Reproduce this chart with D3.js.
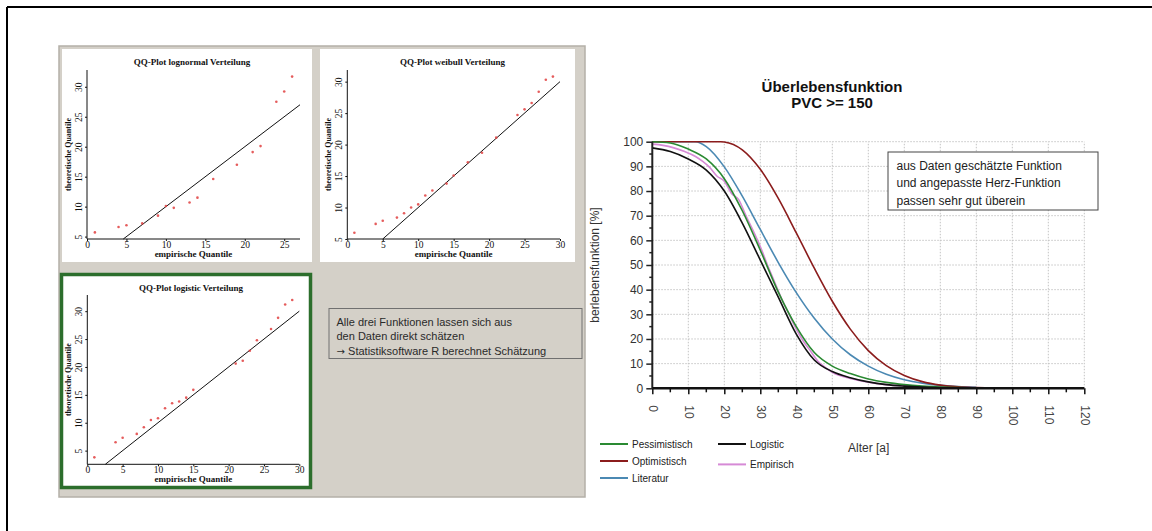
<!DOCTYPE html>
<html>
<head>
<meta charset="utf-8">
<script src="https://d3js.org/d3.v7.min.js"></script>
<style>
  body { margin: 0; background: #fff; }
  svg { display: block; }
  .sans { font-family: "Liberation Sans", Arial, sans-serif; }
  .serif { font-family: "Liberation Serif", "Times New Roman", serif; }
</style>
</head>
<body>
<svg id="chart" width="1152" height="531"></svg>
<script>
// QQ-Plot Punkte: [empirisch, theoretisch]
const qqLognormal = [[1,5.7],[4,6.6],[5,6.9],[7,7.2],[9,8.5],[10,10.1],[11,9.8],[13,10.7],[14,11.5],[16,14.6],[19,17.0],[21,19.1],[22,20.1],[24,27.5],[25,29.2],[26,31.7]];
const qqWeibull = [[1,6.0],[4,7.4],[5,7.9],[7,8.4],[8,9.1],[9,10.0],[10,10.5],[11,11.9],[12,12.7],[14,13.8],[15,15.1],[17,17.2],[19,18.7],[21,21.1],[24,24.7],[25,25.6],[26,26.6],[27,28.4],[28,30.3],[29,30.8]];
const qqLogistic = [[1,3.8],[4,6.5],[5,7.3],[7,8.0],[8,9.2],[9,10.5],[10,10.8],[11,12.6],[12,13.5],[13,13.8],[14,14.5],[15,15.9],[21,20.6],[22,21.1],[23,22.9],[24,24.8],[26,26.8],[27,28.8],[28,31.2],[29,32.0]];
const qqTitles = ["QQ-Plot lognormal Verteilung", "QQ-Plot weibull Verteilung", "QQ-Plot logistic Verteilung"];
const qqXTicks = [[0,5,10,15,20,25],[0,5,10,15,20,25,30],[0,5,10,15,20,25,30]];
const qqYTicks = [[5,10,15,20,25,30],[5,10,15,20,25,30],[5,10,15,20,25,30]];

// Überlebensfunktion: [Alter, Prozent]
const pessimistisch = [[0,100],[5,99.5],[10,97],[15,93],[20,85],[25,72],[30,56],[35,39],[40,25],[45,14.5],[50,9],[55,6],[60,3.8],[65,2.4],[70,1.5],[75,0.9],[80,0.5],[85,0.3],[90,0.15]];
const optimistisch = [[0,100],[10,100],[19,100],[20,99.9],[25,96.7],[30,88.8],[35,77],[40,63],[45,48.7],[50,35.3],[55,24],[60,15.3],[65,9.2],[70,5.2],[75,2.7],[80,1.3],[85,0.6],[90,0.3],[95,0.1]];
const literatur = [[0,100],[6,100],[12,100],[15,98],[20,89.8],[25,77.9],[30,64.4],[35,51],[40,38.8],[45,28.4],[50,20],[55,13.6],[60,9],[65,5.7],[70,3.5],[75,2.1],[80,1.2],[85,0.7],[90,0.4]];
const logistic = [[0,97.5],[5,96],[10,93],[15,88.5],[20,80],[25,67],[30,52],[35,37],[40,22],[45,11.5],[50,6.8],[55,4.3],[60,2.6],[65,1.5],[70,0.9],[75,0.5],[80,0.3],[85,0.15]];
const empirisch = [[0,99],[3,98.5],[6,97.5],[9,96],[12,94],[14,92],[16,89.5],[18,86],[20,84],[22,79],[24,76.5],[26,70],[28,64],[30,57.5],[32,50],[34,43],[36,36],[38,30],[40,24],[42,19],[44,15],[46,11],[48,8.5],[50,6.5],[55,4],[60,2.5],[65,1.5],[70,1],[75,0.5]];
const xTicks = d3.range(0, 121, 10);
const yTicks = d3.range(0, 101, 10);

const svg = d3.select("#chart");

// Rahmen (nur oben und links sichtbar)
svg.append("line").attr("x1", 7).attr("y1", 7).attr("x2", 1152).attr("y2", 7).attr("stroke", "#000").attr("stroke-width", 2);
svg.append("line").attr("x1", 7).attr("y1", 7).attr("x2", 7).attr("y2", 531).attr("stroke", "#000").attr("stroke-width", 2);

// grauer Bereich mit den QQ-Plots
svg.append("rect").attr("x", 59).attr("y", 46).attr("width", 526).attr("height", 451)
  .attr("fill", "#d4d0c8").attr("stroke", "#b4b0a8").attr("stroke-width", 1.5);

const panels = [
  { data: qqLognormal, box: [62, 49, 250, 213], x: [0, 27], xr: [87, 300], y: [4.6, 32.8], yr: [239, 70], border: null },
  { data: qqWeibull, box: [320, 49, 255, 213], x: [0, 30], xr: [347.3, 560], y: [5, 31.85], yr: [239, 70], border: null },
  { data: qqLogistic, box: [61.5, 274.5, 249, 213], x: [0, 30], xr: [87.3, 299.3], y: [2.55, 32.9], yr: [464.3, 295], border: "#2c6e2c" }
];

panels.forEach((p, i) => {
  const g = svg.append("g").attr("class", "serif");
  g.append("rect").attr("x", p.box[0]).attr("y", p.box[1]).attr("width", p.box[2]).attr("height", p.box[3])
    .attr("fill", "#fff")
    .attr("stroke", p.border || "none").attr("stroke-width", p.border ? 3.5 : 0);

  const x = d3.scaleLinear().domain(p.x).range(p.xr);
  const y = d3.scaleLinear().domain(p.y).range(p.yr);

  // Achsen
  g.append("g").attr("transform", `translate(0,${p.yr[0]})`)
    .call(d3.axisBottom(x).tickValues(qqXTicks[i]).tickSize(2).tickPadding(0))
    .call(a => a.selectAll("text").attr("font-size", 9.5).attr("font-family", "Liberation Serif").attr("fill", "#111"))
    .call(a => a.selectAll("path,line").attr("stroke", "#111"));
  g.append("g").attr("transform", `translate(${p.xr[0]},0)`)
    .call(d3.axisLeft(y).tickValues(qqYTicks[i]).tickSize(2).tickPadding(1))
    .call(a => a.selectAll("path,line").attr("stroke", "#111"))
    .call(a => a.selectAll("text").attr("font-size", 9.5).attr("font-family", "Liberation Serif").attr("fill", "#111")
      .attr("text-anchor", "middle").attr("x", -5.5).attr("y", 0).attr("dy", 0)
      .attr("transform", "rotate(-90,-5.5,0)"));
  g.selectAll(".domain").attr("d", null);
  g.append("line").attr("x1", p.xr[0]).attr("x2", p.xr[1]).attr("y1", p.yr[0]).attr("y2", p.yr[0]).attr("stroke", "#111");
  g.append("line").attr("x1", p.xr[0]).attr("x2", p.xr[0]).attr("y1", p.yr[0]).attr("y2", p.yr[1]).attr("stroke", "#111");

  // Referenzlinie y = x
  const lo = Math.max(p.x[0], p.y[0]);
  const hi = Math.min(p.x[1], p.y[1]);
  g.append("line").attr("x1", x(lo)).attr("y1", y(lo)).attr("x2", x(hi)).attr("y2", y(hi))
    .attr("stroke", "#111").attr("stroke-width", 1);

  g.selectAll("circle.pt").data(p.data).enter().append("circle")
    .attr("cx", d => x(d[0])).attr("cy", d => y(d[1])).attr("r", 1.3)
    .attr("fill", "#e04040").attr("opacity", 0.85);

  const cx = (p.box[0] + p.box[0] + p.box[2]) / 2 + 5;
  g.append("text").attr("x", cx).attr("y", p.box[1] + 16).attr("text-anchor", "middle")
    .attr("font-size", 9).attr("font-weight", "bold").attr("fill", "#111").text(qqTitles[i]);
  g.append("text").attr("x", (p.xr[0] + p.xr[1]) / 2).attr("y", p.yr[0] + 17.5).attr("text-anchor", "middle")
    .attr("font-size", 9).attr("font-weight", "bold").attr("fill", "#111").text("empirische Quantile");
  const ly = (p.yr[0] + p.yr[1]) / 2;
  g.append("text").attr("transform", `translate(${p.xr[0] - 16},${ly}) rotate(-90)`).attr("text-anchor", "middle")
    .attr("font-size", 8).attr("font-weight", "bold").attr("fill", "#111").text("theoretische Quantile");
});

// Textkasten im grauen Bereich
svg.append("rect").attr("x", 329).attr("y", 308.5).attr("width", 253).attr("height", 50)
  .attr("fill", "none").attr("stroke", "#707070");
const boxLines = ["Alle drei Funktionen lassen sich aus", "den Daten direkt schätzen", "Statistiksoftware R berechnet Schätzung"];
const bt = svg.append("g").attr("class", "sans").selectAll("text").data(boxLines).enter().append("text")
  .attr("x", 336.5).attr("y", (d, i) => 325.5 + i * 14.5)
  .attr("font-size", 11).attr("fill", "#2a2a2a");
bt.filter((d, i) => i === 2).append("tspan").attr("font-family", "DejaVu Sans").attr("font-size", 10).text("\u2192 ");
bt.append("tspan").text(d => d);

// Hauptdiagramm
const x = d3.scaleLinear().domain([0, 120]).range([652.3, 1084.3]);
const y = d3.scaleLinear().domain([0, 100]).range([388.3, 141.7]);
const main = svg.append("g").attr("class", "sans");

main.append("text").attr("x", 832).attr("y", 92).attr("text-anchor", "middle")
  .attr("font-size", 15).attr("font-weight", "bold").attr("fill", "#111").text("Überlebensfunktion");
main.append("text").attr("x", 832).attr("y", 107.5).attr("text-anchor", "middle")
  .attr("font-size", 15).attr("font-weight", "bold").attr("fill", "#111").text("PVC >= 150");

// Gitter
main.append("g").selectAll("line").data(xTicks.slice(1)).enter().append("line")
  .attr("x1", d => x(d)).attr("x2", d => x(d)).attr("y1", y(0)).attr("y2", y(100))
  .attr("stroke", "#c4c4c4").attr("stroke-dasharray", "1.5,1.5");
main.append("g").selectAll("line").data(yTicks.slice(1)).enter().append("line")
  .attr("x1", x(0)).attr("x2", x(120)).attr("y1", d => y(d)).attr("y2", d => y(d))
  .attr("stroke", "#c4c4c4").attr("stroke-dasharray", "1.5,1.5");

// Kurven
const line = d3.line().x(d => x(d[0])).y(d => y(d[1])).curve(d3.curveMonotoneX);
const series = [
  { data: empirisch, color: "#d68ad6" },
  { data: literatur, color: "#4b89b3" },
  { data: optimistisch, color: "#8b1c1c" },
  { data: pessimistisch, color: "#2a8a32" },
  { data: logistic, color: "#111111" }
];
series.forEach(s => {
  main.append("path").datum(s.data).attr("d", line).attr("fill", "none")
    .attr("stroke", s.color).attr("stroke-width", 1.6);
});

// Achsen
main.append("g").attr("transform", `translate(${x(0)},0)`)
  .call(d3.axisLeft(y).tickValues(yTicks).tickSize(6).tickPadding(3))
  .call(a => a.select(".domain").attr("stroke", "#222").attr("stroke-width", 2).attr("d", `M0,${y(0)}V${y(100)}`))
  .call(a => a.selectAll("line").attr("stroke", "#222").attr("stroke-width", 1.5))
  .call(a => a.selectAll("text").attr("font-size", 12).attr("fill", "#333").attr("font-family", "Liberation Sans"));
main.append("g").attr("transform", `translate(${x(0)},0)`)
  .selectAll("line").data(d3.range(5, 100, 10)).enter().append("line")
  .attr("x1", -3).attr("x2", 0).attr("y1", d => y(d)).attr("y2", d => y(d)).attr("stroke", "#222").attr("stroke-width", 1.5);

main.append("g").attr("transform", `translate(0,${y(0)})`)
  .call(d3.axisBottom(x).tickValues(xTicks).tickSize(6).tickPadding(16))
  .call(a => a.select(".domain").attr("stroke", "#111").attr("stroke-width", 2.5).attr("d", `M${x(0)},0H${x(120)}`))
  .call(a => a.selectAll("line").attr("stroke", "#111").attr("stroke-width", 1.5))
  .call(a => a.selectAll("text").attr("font-size", 12).attr("fill", "#444").attr("font-family", "Liberation Sans")
    .attr("text-anchor", "start").attr("y", 0).attr("dy", "0.35em").attr("transform", "translate(0,17) rotate(90)"));
main.append("g").attr("transform", `translate(0,${y(0)})`)
  .selectAll("line").data(d3.range(5, 120, 10)).enter().append("line")
  .attr("x1", d => x(d)).attr("x2", d => x(d)).attr("y1", 0).attr("y2", 4).attr("stroke", "#111").attr("stroke-width", 1.5);

main.append("text").attr("transform", `translate(599,${(y(0) + y(100)) / 2}) rotate(-90)`).attr("text-anchor", "middle")
  .attr("font-size", 12).attr("fill", "#333").text("berlebensfunktion [%]");
main.append("text").attr("x", 848).attr("y", 452).attr("font-size", 12).attr("fill", "#333").text("Alter [a]");

// Hinweiskasten
main.append("rect").attr("x", 888).attr("y", 152).attr("width", 210).attr("height", 58)
  .attr("fill", "#fff").attr("stroke", "#444");
const noteLines = ["aus Daten geschätzte Funktion", "und angepasste Herz-Funktion", "passen sehr gut überein"];
main.append("g").selectAll("text").data(noteLines).enter().append("text")
  .attr("x", 896.5).attr("y", (d, i) => 169.5 + i * 17.7).attr("font-size", 12).attr("fill", "#222").text(d => d);

// Legende
const legendItems = [
  { name: "Pessimistisch", color: "#2a8a32", col: 0, row: 0 },
  { name: "Optimistisch", color: "#8b1c1c", col: 0, row: 1 },
  { name: "Literatur", color: "#4b89b3", col: 0, row: 2 },
  { name: "Logistic", color: "#111111", col: 1, row: 0 },
  { name: "Empirisch", color: "#d68ad6", col: 1, row: 1.2 }
];
const lg = main.append("g").selectAll("g").data(legendItems).enter().append("g")
  .attr("transform", d => `translate(${600 + d.col * 118},${444 + d.row * 17})`);
lg.append("line").attr("x1", 0).attr("x2", 28).attr("stroke", d => d.color).attr("stroke-width", 2);
lg.append("text").attr("x", 32).attr("dy", "0.35em").attr("font-size", 10).attr("fill", "#222").text(d => d.name);
</script>
</body>
</html>
